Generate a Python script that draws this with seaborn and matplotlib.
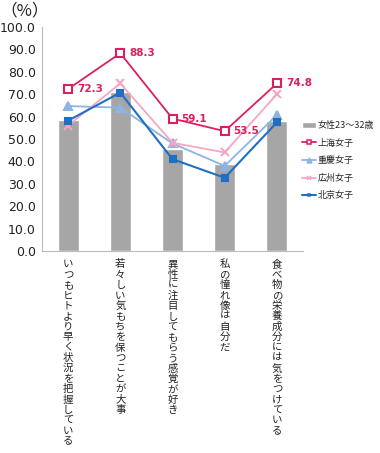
import matplotlib
matplotlib.use("Agg")
import matplotlib.pyplot as plt
import seaborn as sns
import numpy as np
import pandas as pd
from matplotlib.patches import Patch
from matplotlib.lines import Line2D

categories = ["いつもヒトより早く状況を把握している",
              "若々しい気もちを保つことが大事",
              "異性に注目してもらう感覚が好き",
              "私の憧れ像は自分だ",
              "食べ物の栄養成分には気をつけている"]
bar_label = "女性23～32歳"
bar_values = [58.5, 71.0, 45.5, 38.7, 58.0]
shanghai = [72.3, 88.3, 59.1, 53.5, 74.8]
chongqing = [64.7, 64.0, 48.0, 38.0, 60.7]
guangzhou = [56.0, 74.8, 48.3, 44.0, 70.0]
beijing = [58.2, 70.7, 41.0, 32.7, 57.4]
series_names = ["上海女子", "重慶女子", "広州女子", "北京女子"]
yticks = [0, 10, 20, 30, 40, 50, 60, 70, 80, 90, 100]

sns.set_style("white")
plt.rcParams['font.family'] = ['Noto Sans CJK JP', 'DejaVu Sans']

fig = plt.figure(figsize=(3.8, 4.53), dpi=100)
ax = fig.add_axes([42/380, 1-251/453, (303-42)/380, (251-27)/453])

df = pd.DataFrame({"cat": categories, "val": bar_values})
sns.barplot(data=df, x="cat", y="val", color="#A6A6A6", saturation=1,
            width=0.4, ax=ax, order=categories)

styles = [
    (shanghai, "#DC1F5F", "s", "white", 5.5, 1.3),
    (chongqing, "#8DB4E2", "^", "#8DB4E2", 5.5, 1.3),
    (guangzhou, "#F4A6C6", "x", "#F4A6C6", 5.5, 1.3),
    (beijing, "#1F6FC5", "s", "#1F6FC5", 4, 1.5),
]
handles = [Patch(facecolor="#A6A6A6", label=bar_label)]
for (vals, col, mk, mfc, ms, lw), name in zip(styles, series_names):
    sdf = pd.DataFrame({"cat": categories, "val": vals})
    sns.lineplot(data=sdf, x="cat", y="val", color=col, marker=mk, markersize=ms,
                 markerfacecolor=mfc, markeredgecolor=col, markeredgewidth=1.5,
                 linewidth=lw, ax=ax, legend=False, sort=False)
    handles.append(Line2D([0], [0], color=col, marker=mk, markersize=ms - 2,
                          markerfacecolor=mfc, markeredgecolor=col,
                          markeredgewidth=1.1, linewidth=lw, label=name))

for i, v in enumerate(shanghai):
    ax.text(i + 0.17, v, f"{v:.1f}", color="#DC1F5F", fontsize=7.5,
            fontweight="bold", va="center", ha="left", family="DejaVu Sans")

ax.set_xlim(-0.5, 4.5)
ax.set_ylim(0, 100)
ax.set_yticks(yticks)
ax.set_yticklabels([f"{t:.1f}" for t in yticks], fontsize=9, color="#222222",
                   family="DejaVu Sans")
ax.set_xticks(range(len(categories)))
ax.set_xticklabels(["\n".join(c) for c in categories], fontsize=7.5,
                   linespacing=1.05, va="top", color="#222222")
ax.tick_params(axis="x", length=0, pad=6)
ax.set_xticks(np.arange(-0.5, 5, 1), minor=True)
ax.tick_params(axis="x", which="minor", length=4, color="#BBBBBB", direction="out")
ax.tick_params(axis="y", length=3, color="#BBBBBB", direction="out", pad=1.5)
ax.set_xlabel("")
ax.set_ylabel("")
for s in ["top", "right"]:
    ax.spines[s].set_visible(False)
for s in ["left", "bottom"]:
    ax.spines[s].set_color("#BBBBBB")
    ax.spines[s].set_linewidth(0.8)

fig.text(0/380, 1-11/453, "（%）", fontsize=12, va="center", ha="left", color="#222222")

leg = fig.legend(handles=handles, loc="upper left",
                 bbox_to_anchor=(302/380, 1-121/453), frameon=False,
                 fontsize=6.5, handlelength=1.5, handletextpad=0.2,
                 labelspacing=0.95, borderaxespad=0, borderpad=0)

fig.savefig("out.png", dpi=100)
